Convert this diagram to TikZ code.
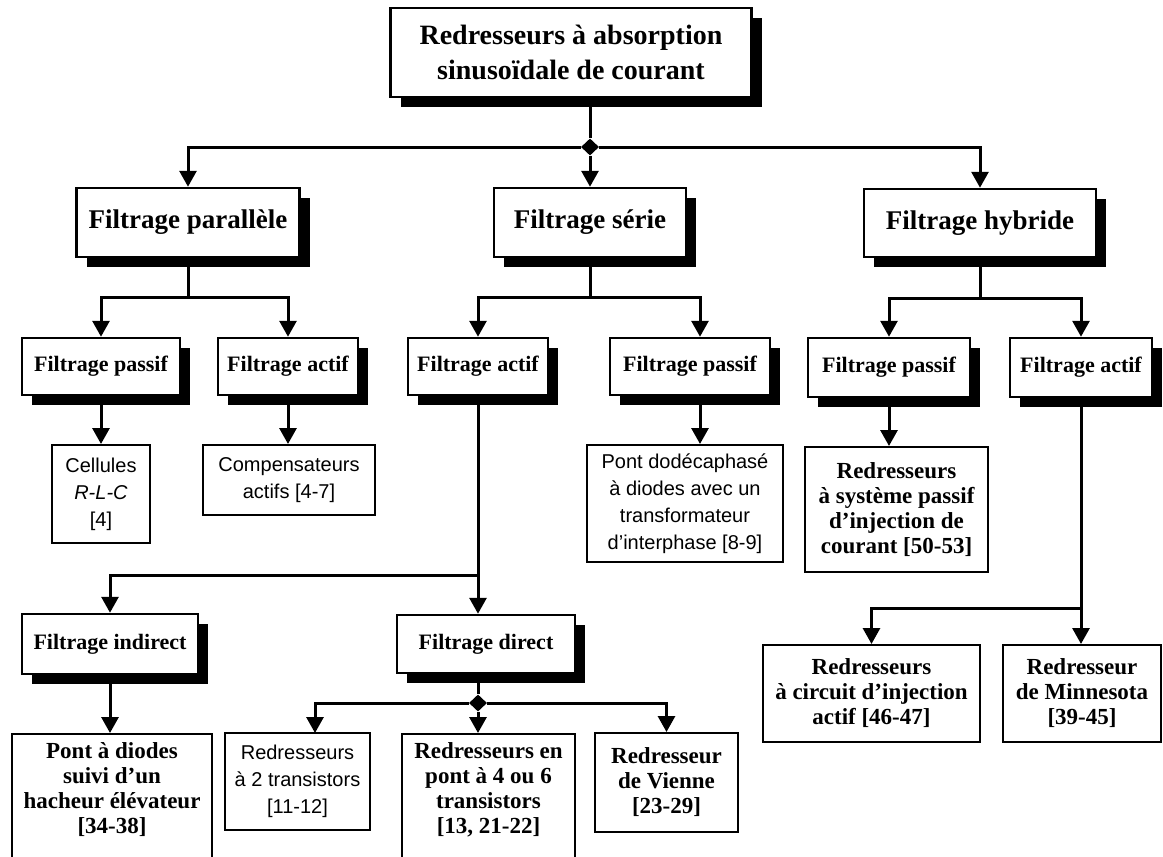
\documentclass[tikz,border=0pt]{standalone}
\usepackage{fontspec}
\setmainfont{Liberation Serif}
\newfontfamily\sansf{Liberation Sans}
\usetikzlibrary{arrows.meta,shadows,shapes.geometric}
\tikzset{
  conn/.style={line width=3pt},
  arr/.style={conn,-{Triangle[length=16pt,width=17pt]}},
  shbox/.style={draw,line width=2.5pt,fill=white,inner sep=0pt,align=center,
    general shadow={fill=black,shadow xshift=10pt,shadow yshift=-10pt}},
  leaf/.style={draw,line width=2pt,fill=white,inner sep=0pt,align=center},
  ftop/.style={font=\fontsize{28}{35}\selectfont\bfseries},
  fone/.style={font=\fontsize{27}{32}\selectfont\bfseries},
  ftwo/.style={font=\fontsize{22}{25}\selectfont\bfseries},
  fbl/.style={font=\fontsize{23}{25}\selectfont\bfseries},
  frg/.style={font=\sansf\fontsize{20}{27}\selectfont},
  junc/.style={diamond,fill=black,inner sep=0pt,minimum width=18pt,minimum height=17pt},
}
\begin{document}
\begin{tikzpicture}[x=1pt,y=-1pt]
\useasboundingbox (0,0) rectangle (1163,857);
% level 0
\node[shbox,ftop,minimum width=361pt,minimum height=89pt] (top) at (571,52.5)
  {Redresseurs à absorption\\sinusoïdale de courant};
% level 1
\node[shbox,fone,minimum width=223pt,minimum height=69pt] (par) at (188,222.5) {Filtrage parallèle};
\node[shbox,fone,minimum width=192pt,minimum height=69pt] (ser) at (590,222.5) {Filtrage série};
\node[shbox,fone,minimum width=232pt,minimum height=68pt] (hyb) at (980,223) {Filtrage hybride};
% level 2
\node[shbox,ftwo,minimum width=158pt,minimum height=57pt] (ppas) at (101,366.5) {Filtrage passif};
\node[shbox,ftwo,minimum width=140pt,minimum height=57pt] (pact) at (288,366.5) {Filtrage actif};
\node[shbox,ftwo,minimum width=140pt,minimum height=57pt] (sact) at (478,366.5) {Filtrage actif};
\node[shbox,ftwo,minimum width=160pt,minimum height=57pt] (spas) at (690,366.5) {Filtrage passif};
\node[shbox,ftwo,minimum width=162pt,minimum height=59pt] (hpas) at (889,367.5) {Filtrage passif};
\node[shbox,ftwo,minimum width=142pt,minimum height=59pt] (hact) at (1081,367.5) {Filtrage actif};
% leaves level 3
\node[leaf,frg,minimum width=98pt,minimum height=98pt] (cell) at (101,494) {Cellules\\\textit{R-L-C}\\{[4]}};
\node[leaf,frg,minimum width=172pt,minimum height=70pt] (comp) at (289,480) {Compensateurs\\actifs [4-7]};
\node[leaf,frg,minimum width=196pt,minimum height=117pt] (dode) at (685,503.5)
  {Pont dodécaphasé\\à diodes avec un\\transformateur\\d’interphase [8-9]};
\node[leaf,fbl,minimum width=183pt,minimum height=125pt] (sysp) at (896.5,509.5)
  {Redresseurs\\à système passif\\d’injection de\\courant [50-53]};
% filtrage indirect / direct
\node[shbox,ftwo,minimum width=176pt,minimum height=60pt] (indir) at (110,644) {Filtrage indirect};
\node[shbox,ftwo,minimum width=178pt,minimum height=58pt] (direct) at (486,644) {Filtrage direct};
% bottom leaves
\node[leaf,fbl,minimum width=200pt,anchor=north,inner ysep=9pt,text depth=40pt] (diod) at (112,733)
  {Pont à diodes\\suivi d’un\\hacheur élévateur\\{[34-38]}};
\node[leaf,frg,minimum width=145pt,minimum height=97pt] (t2) at (297.5,781.5)
  {Redresseurs\\à 2 transistors\\{[11-12]}};
\node[leaf,fbl,minimum width=173pt,anchor=north,inner ysep=9pt,text depth=40pt] (p46) at (488.5,733)
  {Redresseurs en\\pont à 4 ou 6\\transistors\\{[13, 21-22]}};
\node[leaf,fbl,minimum width=143pt,minimum height=99pt] (vien) at (666.5,782.5)
  {Redresseur\\de Vienne\\{[23-29]}};
\node[leaf,fbl,minimum width=217pt,minimum height=97pt] (circ) at (871.5,693.5)
  {Redresseurs\\à circuit d’injection\\actif [46-47]};
\node[leaf,fbl,minimum width=158pt,minimum height=97pt] (minn) at (1082,693.5)
  {Redresseur\\de Minnesota\\{[39-45]}};
% junctions
\node[junc] (d1) at (590,147) {};
\node[junc] (d2) at (478,703) {};
\coordinate (jpar) at (188,297);
\coordinate (jser) at (590,297);
\coordinate (jhyb) at (980,298);
\coordinate (jsa) at (478,575);
\coordinate (jha) at (1081,608);
\coordinate (xsp) at (700,338);
\coordinate (xdo) at (700,400);
\coordinate (xt2) at (315,733);
% connectors
\draw[conn] (top.south -| d1) -- (d1);
\draw[arr] (d1) -- (ser.north -| d1);
\draw[arr] (d1) -| (par.north);
\draw[arr] (d1) -| (hyb.north);
\draw[conn] (par.south) -- (jpar);
\draw[arr] (jpar) -| (ppas.north);
\draw[arr] (jpar) -| (pact.north);
\draw[conn] (ser.south -| jser) -- (jser);
\draw[arr] (jser) -| (sact.north);
\draw[arr] (jser) -| (xsp |- spas.north);
\draw[conn] (hyb.south) -- (jhyb);
\draw[arr] (jhyb) -| (hpas.north);
\draw[arr] (jhyb) -| (hact.north);
\draw[arr] (ppas.south) -- (cell.north);
\draw[arr] (pact.south) -- (pact.south |- comp.north);
\draw[arr] (spas.south -| xdo) -- (dode.north -| xdo);
\draw[arr] (hpas.south) -- (hpas.south |- sysp.north);
\draw[conn] (sact.south) -- (jsa);
\draw[arr] (jsa) -- (direct.north -| jsa);
\draw[arr] (jsa) -| (indir.north);
\draw[arr] (indir.south) -- (indir.south |- diod.north);
\draw[conn] (direct.south -| d2) -- (d2);
\draw[arr] (d2) -- (p46.north -| d2);
\draw[arr] (d2) -| (vien.north);
\draw[arr] (d2) -| (xt2);
\draw[conn] (hact.south) -- (jha);
\draw[arr] (jha) -- (minn.north -| jha);
\draw[arr] (jha) -| (circ.north);
\end{tikzpicture}
\end{document}
